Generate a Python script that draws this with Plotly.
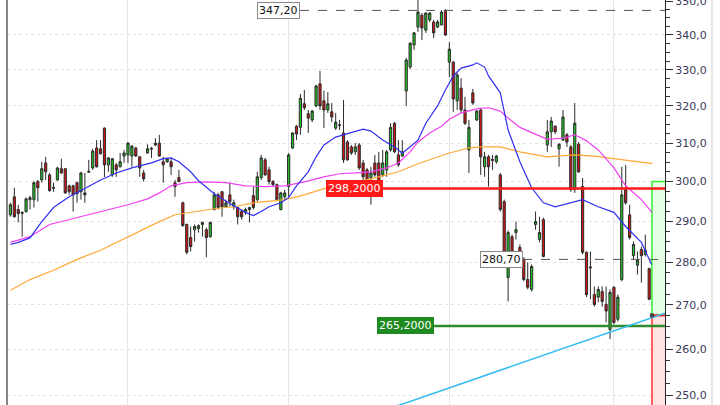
import math
import plotly.graph_objects as go

# ---------------- data ----------------
opens = [291.6, 296.1, 292.9, 292.2, 292.4, 295.4, 295.4, 300.0, 300.4, 304.8,
         301.7, 298.5, 300.4, 303.3, 303.3, 298.9, 298.9, 299.7, 297.4, 297.1,
         302.4, 303.5, 308.7, 308.5, 314.0, 304.3, 301.7, 304.3, 303.8, 306.6,
         306.9, 306.6, 308.7, 306.4, 302.2, 307.4, 308.4, 309.5, 310.0, 305.1,
         305.1,
         305.1, 299.7, 301.0, 294.6, 289.2, 286.0, 287.9, 288.2, 289.2, 287.9,
         286.2, 292.9, 296.6, 297.4, 293.6, 296.6, 293.6, 293.4, 292.4, 292.2,
         292.9, 296.4, 295.4, 301.0, 305.6, 303.0, 300.0, 299.2, 292.9, 296.1,
         298.7, 308.7, 314.5, 314.2, 320.6, 317.9, 316.2, 320.0, 326.1, 321.4,
         318.9, 318.4,
         314.0, 314.9, 312.7, 310.3, 309.0, 307.7, 309.5, 304.8, 303.0, 301.0,
         304.8, 304.8, 301.7, 303.0, 308.2, 315.3, 306.9, 306.6, 324.1, 330.8,
         337.1, 342.3, 345.8, 341.4, 344.4, 343.8, 342.3, 342.9, 347.2, 332.2,
         332.2, 321.4, 324.9, 318.9, 308.2, 323.6, 316.2, 318.9, 303.8, 306.4,
         305.7, 305.1,
         301.7, 294.9, 276.4, 286.2, 287.2, 283.6, 280.7, 275.9, 273.6, 289.2,
         285.5, 290.4, 309.5, 313.0, 314.5, 308.5, 310.8, 312.2, 309.0, 297.9,
         309.7, 298.7, 282.4, 278.9, 272.4, 271.8, 273.1, 270.1, 264.4, 274.1,
         266.7, 275.9, 297.9, 291.6, 281.6, 279.3, 283.1, 281.9, 278.5]
highs = [294.6, 298.4, 294.1, 292.4, 295.9, 296.4, 300.0, 300.4, 305.1, 306.4,
         302.2, 299.7, 303.8, 305.9, 303.5, 299.2, 299.2, 300.0, 302.5, 302.2,
         305.6, 308.5, 310.8, 310.8, 314.2, 306.3, 306.1, 304.8, 307.4, 308.2,
         310.3, 309.5, 309.0, 306.6, 303.0, 309.7, 309.0, 311.3, 312.2, 306.4,
         306.1,
         306.1, 300.4, 303.0, 294.9, 289.4, 288.7, 289.2, 289.2, 289.9, 288.4,
         289.9, 297.4, 297.1, 297.6, 295.4, 299.7, 295.4, 293.6, 292.9, 293.4,
         293.6, 298.7, 302.5, 306.9, 306.1, 303.8, 300.4, 299.5, 297.4, 297.9,
         307.4, 312.9, 314.8, 323.3, 324.4, 318.9, 318.9, 325.8, 329.7, 324.2,
         323.8, 320.8,
         318.1, 316.2, 321.6, 310.8, 309.5, 310.0, 310.0, 305.6, 303.5, 303.8,
         306.9, 307.7, 308.2, 308.2, 315.3, 315.6, 310.8, 310.8, 333.4, 337.9,
         340.9, 351.0, 346.4, 346.7, 346.7, 344.4, 344.4, 347.3, 347.6, 337.9,
         332.5, 329.1, 327.7, 322.5, 316.2, 324.7, 318.9, 319.5, 307.7, 306.9,
         306.9, 306.9,
         302.2, 295.4, 287.7, 286.7, 289.9, 284.3, 281.2, 280.0, 279.5, 292.4,
         291.1, 290.9, 316.2, 317.0, 314.8, 310.0, 318.9, 312.7, 309.5, 320.8,
         310.3, 300.9, 282.6, 282.6, 274.3, 274.3, 274.3, 274.3, 273.6, 274.3,
         272.4, 303.8, 304.3, 294.1, 285.0, 282.6, 283.8, 286.7, 278.7]
lows = [291.1, 290.9, 289.7, 286.2, 292.1, 292.9, 293.4, 294.9, 299.7, 300.4,
        297.4, 297.4, 300.2, 302.0, 296.9, 296.6, 292.4, 294.6, 295.4, 294.6,
        302.2, 303.0, 303.6, 307.0, 301.2, 302.5, 301.2, 301.2, 303.6, 304.8,
        304.8, 303.8, 306.4, 301.2, 300.0, 307.2, 306.1, 309.2, 306.4, 299.7,
        304.8,
        301.7, 296.1, 299.8, 288.7, 281.9, 282.6, 285.0, 287.2, 286.2, 281.2,
        286.0, 292.7, 292.9, 291.1, 293.4, 293.6, 292.9, 289.2, 290.4, 291.6,
        289.7, 292.9, 294.9, 300.4, 301.5, 299.2, 298.7, 295.1, 292.7, 295.4,
        296.1, 308.5, 310.8, 312.2, 318.9, 312.7, 315.6, 319.7, 318.9, 314.0,
        318.1, 315.6,
        313.5, 313.5, 304.8, 305.4, 306.9, 306.9, 303.0, 300.4, 300.2, 294.1,
        301.2, 299.8, 301.2, 301.2, 307.7, 307.4, 303.8, 306.4, 320.0, 330.3,
        335.7, 340.9, 338.5, 340.6, 343.8, 339.1, 342.0, 342.9, 339.7, 328.0,
        318.4, 318.9, 318.1, 314.8, 302.2, 320.3, 315.9, 301.7, 301.2, 298.7,
        303.0, 304.6,
        292.4, 281.9, 270.8, 279.5, 285.5, 280.0, 275.5, 273.6, 273.1, 287.9,
        284.8, 281.2, 307.7, 309.0, 312.4, 303.8, 310.6, 309.0, 297.4, 297.1,
        302.2, 281.9, 271.8, 271.3, 269.6, 270.6, 269.6, 266.0, 262.2, 265.6,
        266.2, 275.5, 294.1, 285.5, 280.7, 277.1, 275.2, 281.4, 271.1]
closes = [294.1, 291.1, 291.9, 292.0, 295.6, 295.9, 299.7, 298.4, 303.3, 302.5,
          297.7, 298.3, 303.5, 302.2, 297.1, 297.4, 296.6, 296.9, 302.2, 296.6,
          302.6, 307.9, 303.8, 307.2, 304.3, 306.1, 305.9, 303.0, 305.1, 307.4,
          310.0, 309.2, 306.6, 303.5, 300.7, 308.5, 308.6, 310.0, 306.6, 304.3,
          305.9,
          303.8, 298.7, 300.0, 288.9, 282.4, 283.8, 288.7, 288.9, 289.7, 286.0,
          289.7, 296.6, 293.4, 293.6, 294.6, 294.9, 294.6, 291.1, 291.1, 292.9,
          293.4, 293.4, 301.2, 306.1, 301.7, 300.0, 299.2, 295.4, 297.1, 297.1,
          306.9, 312.7, 312.4, 322.1, 319.5, 316.7, 318.6, 325.5, 320.0, 318.9,
          320.6, 317.0,
          315.6, 314.7, 305.6, 305.6, 307.4, 309.0, 303.5, 301.2, 300.4, 302.2,
          301.7, 300.0, 304.8, 307.7, 314.2, 307.7, 304.3, 307.7, 332.8, 337.6,
          340.6, 346.7, 342.0, 346.4, 346.4, 340.6, 343.8, 346.7, 340.0, 335.9,
          321.9, 328.6, 318.9, 315.3, 314.2, 320.8, 318.6, 306.4, 306.4, 303.8,
          305.5, 306.6,
          292.9, 282.4, 287.2, 280.0, 287.9, 280.7, 275.9, 274.1, 279.0, 289.9,
          287.2, 281.4, 313.0, 315.9, 313.0, 309.7, 317.0, 310.3, 297.9, 315.3,
          302.5, 282.4, 272.4, 278.7, 270.1, 273.6, 270.8, 268.6, 272.9, 266.0,
          271.8, 296.6, 294.6, 286.0, 284.3, 280.5, 281.6, 282.9, 271.3]
bars = list(range(len(opens)))

# moving averages, read at sampled bars
ma_fast_x = [0, 2, 5, 8, 11, 15, 19, 23, 27, 31, 36, 39, 41, 43, 46, 48, 52, 56,
             60, 62, 64, 66, 69, 71, 73, 76, 78, 80, 83, 87, 90, 92, 95, 98, 100,
             101, 104, 106, 109, 111, 113, 115, 118, 119, 121, 122, 125, 127, 130,
             133, 136, 139, 144, 146, 150, 154, 157, 161, 163.6]
ma_fast_y = [284.3, 284.8, 285.9, 289.9, 293.4, 296.1, 298.2, 300.4, 302.2, 303.5,
             304.8, 305.9, 306.1, 305.1, 302.5, 300.2, 296.9, 294.4, 292.2, 291.4,
             292.4, 293.6, 294.6, 295.9, 298.9, 302.5, 306.4, 309.5, 311.6, 312.9,
             313.7, 313.2, 310.8, 309.0, 307.4, 308.2, 310.8, 315.3, 320.0, 324.4,
             328.3, 330.5, 331.4, 332.0, 330.8, 328.3, 323.6, 313.5, 305.1, 298.4,
             294.6, 293.6, 294.9, 295.4, 293.6, 292.2, 288.7, 284.8, 279.5]
ma_mid_x = [0, 5, 10, 15, 20, 25, 30, 35, 38, 41, 45, 50, 55, 60, 65, 70, 75, 80,
            84, 88, 92, 96, 99, 102, 104, 107, 110, 112, 115, 119, 122, 125, 127,
            130, 134, 137, 141, 144, 147, 150, 154, 157, 161, 163.7]
ma_mid_y = [284.8, 286.2, 289.2, 290.4, 291.6, 292.9, 294.1, 295.6, 297.1, 298.9,
            299.7, 299.9, 299.7, 298.9, 298.7, 298.9, 299.9, 301.2, 302.0, 302.2,
            302.5, 303.5, 304.8, 307.7, 310.3, 312.7, 314.5, 316.4, 318.1, 319.2,
            319.5, 318.6, 316.7, 314.2, 312.4, 311.0, 311.3, 312.2, 310.6, 308.2,
            303.5, 298.9, 295.4, 292.2]
ma_slow_x = [0, 5, 11, 17, 23, 28, 33, 38, 42, 47, 52, 57, 62, 67, 70, 75, 80, 84,
             88, 92, 96, 99, 104, 109, 112, 117, 120, 125, 130, 137, 144, 149, 154,
             161, 163.8]
ma_slow_y = [273.4, 275.9, 278.1, 280.7, 282.9, 285.2, 287.7, 289.9, 291.6, 292.4,
             293.1, 293.6, 294.6, 295.1, 295.4, 296.6, 298.2, 298.9, 299.9, 300.7,
             301.7, 302.5, 304.6, 306.4, 307.4, 308.7, 309.0, 309.0, 307.7, 306.4,
             306.9, 306.6, 305.9, 305.1, 304.6]

trend_x = [90, 167]
trend_y = [245.2, 268.1]

resistance = 298.2
support = 265.2
marked_high = 347.2
marked_last = 280.7
target_top = 300.0
entry_level = 267.6
stop_bottom = 235.0

period_marks = [30, 71, 112, 154]
price_ticks = [250, 260, 270, 280, 290, 300, 310, 320, 330, 340, 350]
tick_labels = ["250,0", "260,0", "270,0", "280,0", "290,0", "300,0",
               "310,0", "320,0", "330,0", "340,0", "350,0"]
minor_ticks = [p + d for p in range(240, 360, 10) for d in (2.5, 5.0, 7.5)]

# ---------------- layout constants ----------------
X_LEFT, X_RIGHT = -0.868, 167.03
Y_LO, Y_HI = 247.88, 350.3
BOX_X0 = 163.7
HIGH_LBL_X = 73.9
LAST_LBL_X = 130.8
RES_LBL_X = 95.1
SUP_LBL_X = 108.1

FONT = "DejaVu Sans"

fig = go.Figure()

# projection boxes
fig.add_trace(go.Scatter(
    x=[BOX_X0, X_RIGHT + 1, X_RIGHT + 1, BOX_X0, BOX_X0],
    y=[entry_level, entry_level, stop_bottom, stop_bottom, entry_level],
    mode="lines", fill="toself", fillcolor="#ffe2e2",
    line=dict(color="#ff3030", width=1.5), hoverinfo="skip"))
fig.add_trace(go.Scatter(
    x=[BOX_X0, X_RIGHT + 1, X_RIGHT + 1, BOX_X0, BOX_X0],
    y=[target_top, target_top, entry_level, entry_level, target_top],
    mode="lines", fill="toself", fillcolor="#e4ffe4",
    line=dict(color="#33ee33", width=1.5), hoverinfo="skip"))
fig.add_trace(go.Scatter(
    x=[BOX_X0, X_RIGHT], y=[entry_level, entry_level], mode="lines",
    line=dict(color="#ff1a1a", width=2), hoverinfo="skip"))

# candles
fig.add_trace(go.Candlestick(
    x=bars, open=opens, high=highs, low=lows, close=closes,
    increasing=dict(line=dict(color="#2b2b2b", width=1), fillcolor="#22c422"),
    decreasing=dict(line=dict(color="#2b2b2b", width=1), fillcolor="#d41414"),
    whiskerwidth=0, hoverinfo="skip"))

# moving averages
fig.add_trace(go.Scatter(x=ma_slow_x, y=ma_slow_y, mode="lines",
                         line=dict(color="#ffa834", width=1.2), hoverinfo="skip"))
fig.add_trace(go.Scatter(x=ma_mid_x, y=ma_mid_y, mode="lines",
                         line=dict(color="#f040f0", width=1.2), hoverinfo="skip"))
fig.add_trace(go.Scatter(x=ma_fast_x, y=ma_fast_y, mode="lines",
                         line=dict(color="#3030f0", width=1.2), hoverinfo="skip"))

# level lines
fig.add_trace(go.Scatter(x=[HIGH_LBL_X, X_RIGHT], y=[marked_high, marked_high],
                         mode="lines", line=dict(color="#555555", width=1, dash="dash"),
                         hoverinfo="skip"))
fig.add_trace(go.Scatter(x=[LAST_LBL_X, X_RIGHT], y=[marked_last, marked_last],
                         mode="lines", line=dict(color="#555555", width=1, dash="dash"),
                         hoverinfo="skip"))
fig.add_trace(go.Scatter(x=[RES_LBL_X, X_RIGHT], y=[resistance, resistance],
                         mode="lines", line=dict(color="#ff1a1a", width=2.5),
                         hoverinfo="skip"))
fig.add_trace(go.Scatter(x=[SUP_LBL_X, X_RIGHT], y=[support, support],
                         mode="lines", line=dict(color="#2e8b2e", width=2.5),
                         hoverinfo="skip"))
fig.add_trace(go.Scatter(x=trend_x, y=trend_y, mode="lines",
                         line=dict(color="#33bbf0", width=1.5), hoverinfo="skip"))
fig.add_trace(go.Scatter(x=[BOX_X0], y=[entry_level], mode="markers",
                         marker=dict(symbol="square", size=4, color="#444444"),
                         hoverinfo="skip"))


def label(xv, yv, text, bg, fg, border):
    fig.add_annotation(x=xv, y=math.log10(yv), xref="x", yref="y", text=text,
                       showarrow=False, xanchor="right", yanchor="middle",
                       bgcolor=bg, bordercolor=border, borderwidth=1, borderpad=1,
                       font=dict(family=FONT, size=11, color=fg))


label(HIGH_LBL_X, marked_high, "347,20", "white", "#111111", "#888888")
label(LAST_LBL_X, marked_last, "280,70", "white", "#111111", "#888888")
label(RES_LBL_X, resistance, "298,2000", "#ff1a1a", "white", "#ff1a1a")
label(SUP_LBL_X, support, "265,2000", "#1f8a1f", "white", "#1f8a1f")

fig.add_shape(type="line", xref="paper", yref="paper", x0=0, x1=0, y0=0, y1=1,
              line=dict(color="#111111", width=1))
fig.add_shape(type="line", xref="paper", yref="paper", x0=1.0714, x1=1.0714,
              y0=0, y1=1, line=dict(color="#d0d0d0", width=1))

fig.update_layout(
    width=720, height=405,
    margin=dict(l=7, r=55, t=0, b=0, pad=0, autoexpand=False),
    paper_bgcolor="white", plot_bgcolor="white",
    showlegend=False,
    boxgap=0.2,
    xaxis=dict(range=[X_LEFT, X_RIGHT], showticklabels=False, tickvals=period_marks,
               showgrid=True, gridcolor="#e6e6e6", gridwidth=1, zeroline=False,
               ticks="", rangeslider=dict(visible=False), fixedrange=True,
               automargin=False),
    yaxis=dict(type="log", side="right", automargin=False, fixedrange=True,
               range=[math.log10(Y_LO), math.log10(Y_HI)],
               tickmode="array", tickvals=price_ticks, ticktext=tick_labels,
               ticks="outside", ticklen=7, tickcolor="#333333", tickwidth=1,
               ticklabeloverflow="allow",
               showline=True, linecolor="#222222", linewidth=1,
               showgrid=True, gridcolor="#e2e2e2", griddash="dot", zeroline=False,
               tickfont=dict(family=FONT, size=11, color="#3a3a58"),
               minor=dict(tickmode="array", tickvals=minor_ticks, ticklen=4,
                          tickcolor="#333333", showgrid=False)),
)

fig.write_html(
    "out.html",
    config={"displayModeBar": False},
    post_script="document.body.style.margin='0';document.body.style.padding='0';"
)
